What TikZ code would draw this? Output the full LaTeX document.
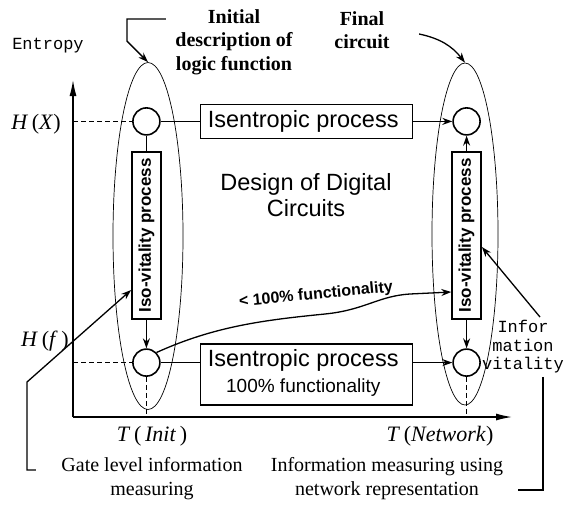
\documentclass[tikz,border=0pt]{standalone}
\usepackage{fontspec}
\setmainfont{Liberation Serif}
\setsansfont{Liberation Sans}
\setmonofont{Liberation Mono}
\usepackage{graphicx}
\usetikzlibrary{matrix,shapes.geometric,arrows.meta}

\begin{document}
\begin{tikzpicture}[x=1pt, y=-1pt,
    >={Stealth[length=10pt,width=7pt]},
    statecirc/.style={circle, draw, line width=1.6pt, minimum size=27pt, inner sep=0pt},
    isobox/.style={draw, line width=1.6pt, minimum width=212pt, minimum height=34pt,
      inner sep=4pt, align=center, font=\sffamily\fontsize{23.5}{26}\selectfont},
    vitbox/.style={draw, line width=1.6pt, minimum width=29pt, minimum height=167pt,
      inner sep=2pt, font=\sffamily\bfseries\fontsize{17}{17}\selectfont},
    region/.style={ellipse, draw, line width=0.7pt, inner sep=0pt},
    guide/.style={line width=1pt, dash pattern=on 5pt off 3pt},
    link/.style={line width=1.3pt},
    axis/.style={line width=1.3pt, -{Latex[length=16pt,width=7pt]}},
    serif/.style={align=center, font=\fontsize{20}{24}\selectfont},
    heading/.style={align=center, font=\bfseries\fontsize{20}{23.5}\selectfont},
    mathlabel/.style={font=\fontsize{22}{24}\selectfont},
    mono/.style={align=center, font=\ttfamily\fontsize{17}{18.5}\selectfont},
    title/.style={align=center, font=\sffamily\fontsize{23.5}{26}\selectfont},
    slant/.style={rotate=5.5, font=\sffamily\bfseries\fontsize{16}{18}\selectfont}]
    \useasboundingbox (0,0) rectangle (564,506);
    \coordinate (origin) at (73,417);
    \coordinate (ytip) at (73,80);
    \coordinate (xtip) at (512,417);
    \node[region, minimum width=70pt, minimum height=347pt] (initset) at (148,236) {};
    \node[region, minimum width=66pt, minimum height=342pt] (finalset) at (465,234) {};
    \matrix(flow)[matrix of nodes, ampersand replacement=\&,
      column sep=38pt, row sep=11.75pt, nodes={anchor=center}] at (306.5,254.75) {
      |[statecirc]| {} \& |[isobox]| Isentropic process \& |[statecirc]| {} \\
      |[vitbox]| \rotatebox{90}{Iso-vitality process} \& \& |[vitbox]| \rotatebox{90}{Iso-vitality process} \\[12pt]
      |[statecirc]| {} \& |[isobox, minimum height=61pt, yshift=-12pt]| \begin{tabular}{@{}c@{}}Isentropic process\\{\fontsize{19}{22}\selectfont 100\% functionality}\end{tabular} \& |[statecirc]| {} \\ };
    \node[mono] (entlabel) at (48,46) {Entropy};
    \node[heading] (initial) at (234,42) {Initial\\description of\\logic function};
    \node[heading] (final) at (362,30) {Final\\circuit};
    \node[title] (design) at (306,195) {Design of Digital\\Circuits};
    \node[slant] (lessfun) at (316,295) {< 100\% functionality};
    \node[mathlabel] (hx) at (36,124) {\textit{H}\,(\textit{X})};
    \node[mathlabel] (hf) at (45,341) {\textit{H}\,(\textit{f}\,)};
    \node[mathlabel] (tinit) at (152,436) {\textit{T}\,(\,\textit{Init}\,)};
    \node[mathlabel] (tnet) at (440,436) {\textit{T}\,(\textit{Network})};
    \node[serif] (gate) at (152,479) {Gate level information\\measuring};
    \node[serif] (netmeas) at (387,479) {Information measuring using\\network representation};
    \node[mono] (infovit) at (523,347) {Infor\\mation\\vitality};
    \path[draw, axis] (origin) -- (ytip);
    \path[draw, axis] (origin) -- (xtip);
    \path[draw, guide] (origin |- flow-1-1) -- (flow-1-1.west);
    \path[draw, guide] (origin |- flow-3-1) -- (flow-3-1.west);
    \path[draw, guide] (flow-3-1.south) -- (flow-3-1 |- origin);
    \path[draw, guide] (flow-3-3.south) -- (flow-3-3 |- origin);
    \path[draw, link] (flow-1-1) -- (flow-1-2);
    \path[draw, link, ->] (flow-1-2) -- (flow-1-3);
    \path[draw, link] (flow-1-1) -- (flow-2-1);
    \path[draw, link, ->] (flow-2-1) -- (flow-3-1);
    \path[draw, link, ->] (flow-2-3) -- (flow-1-3);
    \path[draw, link, ->] (flow-2-3) -- (flow-3-3);
    \path[draw, link] (flow-3-1) -- (flow-3-1 -| flow-3-2.west);
    \path[draw, link, ->] (flow-3-3 -| flow-3-2.east) -- (flow-3-3);
    \path[draw, link, ->] (flow-3-1.north east) .. controls (215,326) and (265,320) .. (325,314)
      .. controls (365,310) and (378,296) .. (410,294) -- (flow-2-3.west |- 0,292);
    \path[draw, link, ->] ([xshift=-6pt]initial.west |- 0,19) -| ([shift={(-21pt,21pt)}]initset.north) -- (initset.north);
    \path[draw, link, ->] ([shift={(26pt,-4pt)}]final.east) to[bend left=20] (finalset.north);
    \path[draw, link, ->] ([shift={(-22pt,9pt)}]gate.west) -| (27,382) -- (flow-2-1.west |- 0,290);
    \path[draw, link, ->] ([xshift=17pt]infovit.north) -- (flow-2-3.east |- 0,247);
    \path[draw, link] ([xshift=20pt]infovit.south) |- ([shift={(11pt,-11pt)}]netmeas.east);
  \end{tikzpicture}
\end{document}
